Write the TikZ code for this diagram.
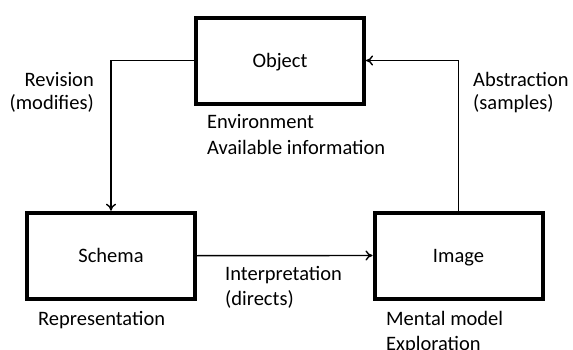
\documentclass[tikz,border=0pt]{standalone}
\usepackage{fontspec}
\setmainfont{Carlito}
\usetikzlibrary{arrows.meta}
\begin{document}
\begin{tikzpicture}[x=1pt,y=-1pt,
  box/.style={draw,line width=4pt,minimum width=168pt,minimum height=86pt,inner sep=0pt,text height=14pt,text depth=0pt,font=\fontsize{20.5}{25}\selectfont},
  lbl/.style={font=\fontsize{20.5}{25}\selectfont,inner sep=0pt,align=left,anchor=base west},
  conn/.style={line width=1.4pt,-{To[length=7pt,width=10pt]}}]
\useasboundingbox (0,0) rectangle (573,350);
\node[box] (obj) at (280,60.7) {Object};
\node[box] (sch) at (111,255.7) {Schema};
\node[box] (img) at (458.5,255.5) {Image};
\coordinate (tl) at (111,60.5);
\coordinate (tr) at (458.5,60.5);
\draw[conn] (obj.west |- tl) -- (tl) -- (sch.north -| tl);
\draw[conn] (img.north -| tr) -- (tr) -- (obj.east |- tr);
\draw[conn] (sch.east) -- (img.west);
\node[lbl,anchor=base east,align=right,font=\fontsize{20.5}{23}\selectfont] (rev) at (94,110) {Revision\\(modifies)};
\node[lbl,font=\fontsize{20.5}{23}\selectfont] (abs) at (473,110) {Abstraction\\(samples)};
\node[lbl] (env) at (207,154) {Environment\\Available information};
\node[lbl] (int) at (225,305) {Interpretation\\(directs)};
\node[lbl] (rep) at (38,325) {Representation};
\node[lbl] (men) at (386,350) {Mental model\\Exploration};
\end{tikzpicture}
\end{document}
